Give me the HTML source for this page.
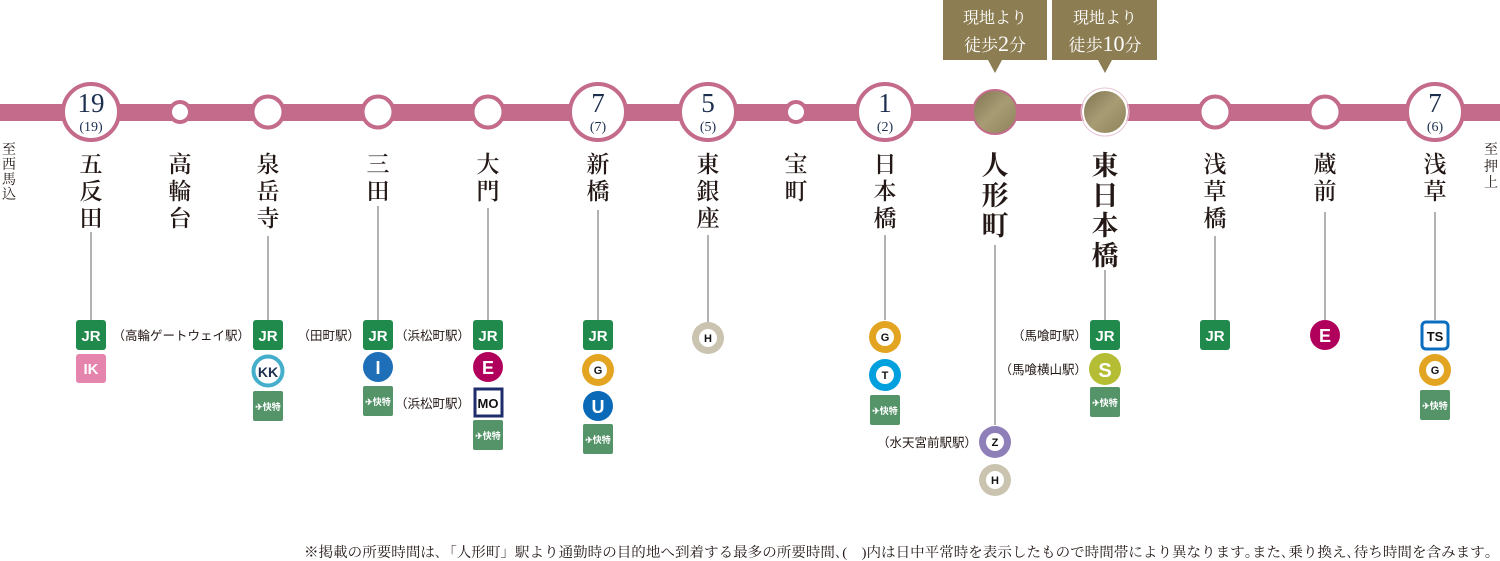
<!DOCTYPE html>
<html><head><meta charset="utf-8"><style>
html,body{margin:0;padding:0;background:#fff;}
svg{display:block}
.sn{font-family:"Liberation Serif","Noto Serif CJK SC",serif;font-size:23px;font-weight:600;fill:#231815;text-anchor:middle}
.snb{font-family:"Liberation Serif","Noto Serif CJK SC",serif;font-size:27px;font-weight:bold;fill:#231815;text-anchor:middle}
.to{font-family:"Liberation Serif","Noto Serif CJK SC",serif;font-size:14px;fill:#231815;text-anchor:middle}
.num{font-family:"Liberation Serif","Noto Serif CJK SC",serif;font-size:27px;fill:#1d2f4f;text-anchor:middle}
.pn{font-family:"Liberation Serif","Noto Serif CJK SC",serif;font-size:14px;fill:#1d2f4f;text-anchor:middle}
.lb{font-family:"Liberation Sans","Noto Sans CJK JP",sans-serif;font-size:12.5px;fill:#231815;text-anchor:end}
.bt{font-family:"Liberation Sans","Noto Sans CJK JP",sans-serif;font-weight:bold;text-anchor:middle}
.co{font-family:"Liberation Serif","Noto Serif CJK SC",serif;fill:#fff;text-anchor:middle}
.ft{font-family:"Liberation Serif","Noto Serif CJK JP",serif;font-size:14px;fill:#231815;text-anchor:end}
</style></head><body>
<svg width="1500" height="561" viewBox="0 0 1500 561" xmlns="http://www.w3.org/2000/svg">
<defs>
<linearGradient id="gold" x1="0" y1="0" x2="1" y2="1">
<stop offset="0" stop-color="#7d7350"/><stop offset="0.5" stop-color="#a89c74"/><stop offset="1" stop-color="#8c8159"/>
</linearGradient>
</defs>
<rect x="0" y="104" width="1500" height="17" fill="#c46a8b"/>

<rect x="943" y="0" width="104" height="60" fill="#8c7d52"/>
<polygon points="988,60 1002,60 995,73" fill="#8c7d52"/>
<text class="co" x="995" y="23" font-size="16">現地より</text>
<text class="co" x="995" y="51" font-size="17">徒歩<tspan font-size="22">2</tspan>分</text>
<rect x="1052" y="0" width="105" height="60" fill="#8c7d52"/>
<polygon points="1098,60 1112,60 1105,73" fill="#8c7d52"/>
<text class="co" x="1105" y="23" font-size="16">現地より</text>
<text class="co" x="1105" y="51" font-size="17">徒歩<tspan font-size="22">10</tspan>分</text>

<g fill="#fff" stroke="#c46a8b" stroke-width="4">
<circle cx="91" cy="112" r="28"/><circle cx="598" cy="112" r="28"/><circle cx="708" cy="112" r="28"/>
<circle cx="885" cy="112" r="28"/><circle cx="1435" cy="112" r="28"/>
<circle cx="268" cy="112" r="15.5"/><circle cx="378" cy="112" r="15.5"/><circle cx="488" cy="112" r="15.5"/>
<circle cx="1215" cy="112" r="15.5"/><circle cx="1325" cy="112" r="15.5"/>
<circle cx="180" cy="112" r="10"/><circle cx="796" cy="112" r="10"/>
</g>
<circle cx="995" cy="112" r="22" fill="url(#gold)" stroke="#c46a8b" stroke-width="2"/>
<circle cx="1105" cy="112" r="22" fill="url(#gold)" stroke="#fff" stroke-width="2"/>
<circle cx="1105" cy="112" r="24" fill="none" stroke="#e8c6d3" stroke-width="1"/>

<text class="num" x="91" y="112">19</text><text class="pn" x="91" y="131">(19)</text>
<text class="num" x="598" y="112">7</text><text class="pn" x="598" y="131">(7)</text>
<text class="num" x="708" y="112">5</text><text class="pn" x="708" y="131">(5)</text>
<text class="num" x="885" y="112">1</text><text class="pn" x="885" y="131">(2)</text>
<text class="num" x="1435" y="112">7</text><text class="pn" x="1435" y="131">(6)</text>

<text class="to" x="9" y="154">至</text><text class="to" x="9" y="169">西</text><text class="to" x="9" y="184">馬</text><text class="to" x="9" y="199">込</text>
<text class="to" x="1491" y="154">至</text><text class="to" x="1491" y="171">押</text><text class="to" x="1491" y="187">上</text>

<g class="sn">
<text x="91" y="172">五</text><text x="91" y="199">反</text><text x="91" y="226">田</text>
<text x="180" y="172">高</text><text x="180" y="199">輪</text><text x="180" y="226">台</text>
<text x="268" y="172">泉</text><text x="268" y="199">岳</text><text x="268" y="226">寺</text>
<text x="378" y="172">三</text><text x="378" y="199">田</text>
<text x="488" y="172">大</text><text x="488" y="199">門</text>
<text x="598" y="172">新</text><text x="598" y="199">橋</text>
<text x="708" y="172">東</text><text x="708" y="199">銀</text><text x="708" y="226">座</text>
<text x="796" y="172">宝</text><text x="796" y="199">町</text>
<text x="885" y="172">日</text><text x="885" y="199">本</text><text x="885" y="226">橋</text>
<text x="1215" y="172">浅</text><text x="1215" y="199">草</text><text x="1215" y="226">橋</text>
<text x="1325" y="172">蔵</text><text x="1325" y="199">前</text>
<text x="1435" y="172">浅</text><text x="1435" y="199">草</text>
</g>
<g class="snb">
<text x="995" y="175">人</text><text x="995" y="205">形</text><text x="995" y="235">町</text>
<text x="1105" y="175">東</text><text x="1105" y="205">日</text><text x="1105" y="235">本</text><text x="1105" y="265">橋</text>
</g>

<g stroke="#666" stroke-width="1">
<line x1="91" y1="232" x2="91" y2="320"/>
<line x1="268" y1="236" x2="268" y2="320"/>
<line x1="378" y1="206" x2="378" y2="320"/>
<line x1="488" y1="208" x2="488" y2="320"/>
<line x1="598" y1="210" x2="598" y2="320"/>
<line x1="708" y1="235" x2="708" y2="322"/>
<line x1="885" y1="235" x2="885" y2="320"/>
<line x1="995" y1="245" x2="995" y2="425"/>
<line x1="1105" y1="270" x2="1105" y2="320"/>
<line x1="1215" y1="236" x2="1215" y2="320"/>
<line x1="1325" y1="212" x2="1325" y2="320"/>
<line x1="1435" y1="212" x2="1435" y2="320"/>
</g>

<g fill="#1f8a4c">
<rect x="76" y="320" width="30" height="30" rx="3"/>
<rect x="253" y="320" width="30" height="30" rx="3"/>
<rect x="363" y="320" width="30" height="30" rx="3"/>
<rect x="473" y="320" width="30" height="30" rx="3"/>
<rect x="583" y="320" width="30" height="30" rx="3"/>
<rect x="1090" y="320" width="30" height="30" rx="3"/>
<rect x="1200" y="320" width="30" height="30" rx="3"/>
</g>
<g class="bt" fill="#fff" font-size="15">
<text x="91" y="341">JR</text><text x="268" y="341">JR</text><text x="378" y="341">JR</text><text x="488" y="341">JR</text>
<text x="598" y="341">JR</text><text x="1105" y="341">JR</text><text x="1215" y="341">JR</text>
</g>
<rect x="76" y="354" width="30" height="29" rx="3" fill="#e584ac"/>
<text class="bt" x="91" y="374" fill="#fff" font-size="15">IK</text>

<g fill="#559369">
<rect x="253" y="391" width="30" height="30" rx="2"/>
<rect x="363" y="386" width="30" height="30" rx="2"/>
<rect x="473" y="420" width="30" height="30" rx="2"/>
<rect x="583" y="424" width="30" height="30" rx="2"/>
<rect x="870" y="395" width="30" height="30" rx="2"/>
<rect x="1090" y="387" width="30" height="30" rx="2"/>
<rect x="1420" y="390" width="30" height="30" rx="2"/>
</g>
<g class="bt" fill="#fff" font-size="9">
<text x="268" y="410">✈快特</text><text x="378" y="405">✈快特</text><text x="488" y="439">✈快特</text>
<text x="598" y="443">✈快特</text><text x="885" y="414">✈快特</text><text x="1105" y="406">✈快特</text><text x="1435" y="409">✈快特</text>
</g>

<circle cx="268" cy="371" r="14.5" fill="#fff" stroke="#45aecb" stroke-width="4"/>
<text class="bt" x="268" y="377" fill="#1d2f4f" font-size="14">KK</text>
<circle cx="378" cy="367" r="15" fill="#1e6fb8"/><text class="bt" x="378" y="374" fill="#fff" font-size="18">I</text>
<circle cx="488" cy="367" r="15" fill="#b1005c"/><text class="bt" x="488" y="374" fill="#fff" font-size="18">E</text>
<rect x="475" y="389" width="27" height="27" fill="#fff" stroke="#1f2d6b" stroke-width="3"/>
<text class="bt" x="488" y="408" fill="#111" font-size="13">MO</text>
<circle cx="598" cy="370" r="16" fill="#e3a521"/><circle cx="598" cy="370" r="9" fill="#fff"/>
<text class="bt" x="598" y="374" fill="#111" font-size="11">G</text>
<circle cx="598" cy="406" r="15" fill="#0a6ab8"/><text class="bt" x="598" y="413" fill="#fff" font-size="18">U</text>
<circle cx="708" cy="338" r="16" fill="#c9c3b0"/><circle cx="708" cy="338" r="9" fill="#fff"/>
<text class="bt" x="708" y="342" fill="#111" font-size="11">H</text>
<circle cx="885" cy="337" r="16" fill="#e3a521"/><circle cx="885" cy="337" r="9" fill="#fff"/>
<text class="bt" x="885" y="341" fill="#111" font-size="11">G</text>
<circle cx="885" cy="375" r="16" fill="#00a0de"/><circle cx="885" cy="375" r="9" fill="#fff"/>
<text class="bt" x="885" y="379" fill="#111" font-size="11">T</text>
<circle cx="995" cy="442" r="16" fill="#8f7fb8"/><circle cx="995" cy="442" r="9" fill="#fff"/>
<text class="bt" x="995" y="446" fill="#111" font-size="11">Z</text>
<circle cx="995" cy="480" r="16" fill="#c9c3b0"/><circle cx="995" cy="480" r="9" fill="#fff"/>
<text class="bt" x="995" y="484" fill="#111" font-size="11">H</text>
<circle cx="1105" cy="369" r="16" fill="#b5bd34"/><text class="bt" x="1105" y="377" fill="#fff" font-size="20">S</text>
<circle cx="1325" cy="335" r="15" fill="#b1005c"/><text class="bt" x="1325" y="342" fill="#fff" font-size="18">E</text>
<rect x="1422" y="322" width="26" height="27" rx="4" fill="#fff" stroke="#0b6dc0" stroke-width="3"/>
<text class="bt" x="1435" y="341" fill="#111" font-size="13">TS</text>
<circle cx="1435" cy="370" r="16" fill="#e3a521"/><circle cx="1435" cy="370" r="9" fill="#fff"/>
<text class="bt" x="1435" y="374" fill="#111" font-size="11">G</text>

<text class="lb" x="250" y="340">（高輪ゲートウェイ駅）</text>
<text class="lb" x="360" y="340">（田町駅）</text>
<text class="lb" x="470" y="340">（浜松町駅）</text>
<text class="lb" x="470" y="408">（浜松町駅）</text>
<text class="lb" x="977" y="447">（水天宮前駅駅）</text>
<text class="lb" x="1087" y="340">（馬喰町駅）</text>
<text class="lb" x="1087" y="374">（馬喰横山駅）</text>

<text class="ft" x="1492" y="557" textLength="1188" lengthAdjust="spacingAndGlyphs">※掲載の所要時間は､「人形町」駅より通勤時の目的地へ到着する最多の所要時間､(　)内は日中平常時を表示したもので時間帯により異なります｡また､乗り換え､待ち時間を含みます｡</text>
</svg>
</body></html>
